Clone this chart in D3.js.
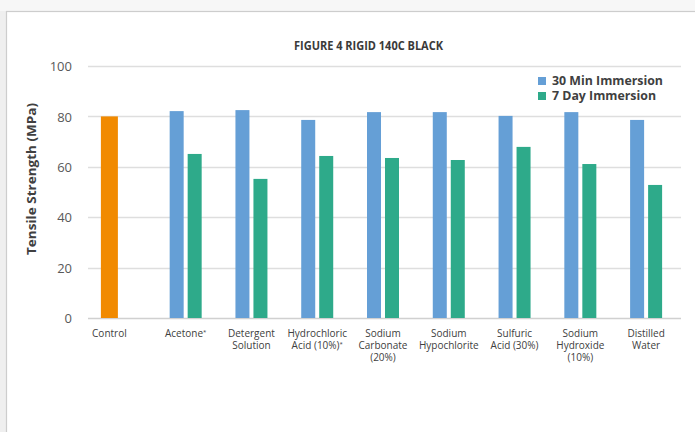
<!DOCTYPE html>
<html>
<head>
<meta charset="utf-8">
<script src="https://cdn.jsdelivr.net/npm/d3@7/dist/d3.min.js"></script>
<style>
  html, body { margin: 0; padding: 0; background: #f4f4f4; }
  svg { display: block; }
</style>
</head>
<body>
<svg id="chart" width="695" height="432"></svg>
<script>
// ---- Data ----
const categories = ["Control", "Acetone*", "Detergent Solution", "Hydrochloric Acid (10%)*",
  "Sodium Carbonate (20%)", "Sodium Hypochlorite", "Sulfuric Acid (30%)",
  "Sodium Hydroxide (10%)", "Distilled Water"];
const categoryLines = [["Control"], ["Acetone*"], ["Detergent", "Solution"], ["Hydrochloric", "Acid (10%)*"],
  ["Sodium", "Carbonate", "(20%)"], ["Sodium", "Hypochlorite"], ["Sulfuric", "Acid (30%)"],
  ["Sodium", "Hydroxide", "(10%)"], ["Distilled", "Water"]];
const seriesNames = ["30 Min Immersion", "7 Day Immersion"];
const controlValue = 80.0;
const min30Values = [null, 82.1, 82.5, 78.6, 81.7, 81.7, 80.2, 81.7, 78.6];
const day7Values = [null, 65.1, 55.2, 64.3, 63.5, 62.7, 67.9, 61.1, 52.8];
const yTicks = [0, 20, 40, 60, 80, 100];
const title = "FIGURE 4 RIGID 140C BLACK";
const yTitle = "Tensile Strength (MPa)";

// ---- Styles ----
const colors = { control: "#f18a00", "30 Min Immersion": "#659fd6", "7 Day Immersion": "#2eaa8a" };

const svg = d3.select("#chart");

// panel
svg.append("rect").attr("x", 0).attr("y", 0).attr("width", 695).attr("height", 432).attr("fill", "#f7f7f7");
svg.append("rect").attr("x", 0).attr("y", 11).attr("width", 6).attr("height", 421).attr("fill", "#efefef");
svg.append("rect").attr("x", 6.5).attr("y", 11.5).attr("width", 700).attr("height", 430)
  .attr("fill", "#ffffff").attr("stroke", "#cdcdcd").attr("stroke-width", 1.2);

const y = d3.scaleLinear().domain([0, 100]).range([318, 66]);
const x0 = d3.scaleBand().domain(categories).range([87, 679]).padding(0);
const x1 = d3.scaleBand().domain(seriesNames)
  .range([x0.bandwidth() / 2 - 16, x0.bandwidth() / 2 + 16]).paddingInner(0.222);

// gridlines
svg.append("g").selectAll("line").data(yTicks).join("line")
  .attr("x1", 88).attr("x2", 681)
  .attr("y1", d => Math.round(y(d)) + 0.5).attr("y2", d => Math.round(y(d)) + 0.5)
  .attr("stroke", d => d === 0 ? "#d0d0d0" : "#dedede").attr("stroke-width", 1.3);

// y axis labels
const yAxis = d3.axisLeft(y).tickValues(yTicks).tickSize(0).tickPadding(0);
const gy = svg.append("g").attr("transform", "translate(72,0)").call(yAxis);
gy.select(".domain").remove();
gy.selectAll("text").attr("font-family", "'Open Sans', sans-serif").attr("font-size", 13)
  .attr("fill", "#595959").attr("dy", "0.36em");

// y title
svg.append("text")
  .attr("transform", "translate(36,179) rotate(-90)")
  .attr("text-anchor", "middle")
  .attr("font-family", "'Open Sans', sans-serif").attr("font-weight", "bold").attr("font-size", 13)
  .attr("fill", "#404040")
  .attr("textLength", 152).attr("lengthAdjust", "spacingAndGlyphs")
  .text(yTitle);

// title
svg.append("text")
  .attr("x", 368.5).attr("y", 49.5).attr("text-anchor", "middle")
  .attr("font-family", "'Open Sans', sans-serif").attr("font-weight", "bold").attr("font-size", 12)
  .attr("fill", "#3a3a3a")
  .attr("textLength", 149).attr("lengthAdjust", "spacingAndGlyphs")
  .text(title);

// bars
const barsG = svg.append("g");
// control bar
barsG.append("rect")
  .attr("x", x0(categories[0]) + x1(seriesNames[0]) + x1.bandwidth() - 17)
  .attr("width", 17)
  .attr("y", y(controlValue))
  .attr("height", y(0) - y(controlValue))
  .attr("fill", colors.control);

const seriesData = [min30Values, day7Values];
seriesNames.forEach((s, si) => {
  barsG.append("g").selectAll("rect")
    .data(categories.map((c, i) => ({ c, v: seriesData[si][i] })).filter(d => d.v !== null))
    .join("rect")
    .attr("x", d => x0(d.c) + x1(s))
    .attr("width", x1.bandwidth())
    .attr("y", d => y(d.v))
    .attr("height", d => y(0) - y(d.v))
    .attr("fill", colors[s]);
});

// x labels
const xl = svg.append("g");
categories.forEach((c, i) => {
  let cx = x0(c) + x0.bandwidth() / 2;
  if (i === 0) cx = x0(c) + x1(seriesNames[0]) + x1.bandwidth() - 8.5;
  const lines = categoryLines[i];
  lines.forEach((line, li) => {
    const t = xl.append("text")
      .attr("x", cx).attr("y", 337 + li * 12)
      .attr("text-anchor", "middle")
      .attr("font-family", "'Open Sans', sans-serif").attr("font-size", 10)
      .attr("fill", "#404040");
    if (line.endsWith("*")) {
      t.append("tspan").text(line.slice(0, -1));
      t.append("tspan").attr("font-size", 6).attr("dy", -3).text("*");
    } else {
      t.text(line);
    }
  });
});

// legend
const lg = svg.append("g");
const legendWidths = [111, 104];
seriesNames.forEach((s, i) => {
  lg.append("rect").attr("x", 538).attr("y", 77 + i * 15).attr("width", 8).attr("height", 8)
    .attr("fill", colors[s]);
  lg.append("text").attr("x", 552).attr("y", 85 + i * 15)
    .attr("font-family", "'Open Sans', sans-serif").attr("font-weight", "bold").attr("font-size", 13)
    .attr("fill", "#404040")
    .attr("textLength", legendWidths[i]).attr("lengthAdjust", "spacingAndGlyphs")
    .text(s);
});
</script>
</body>
</html>
